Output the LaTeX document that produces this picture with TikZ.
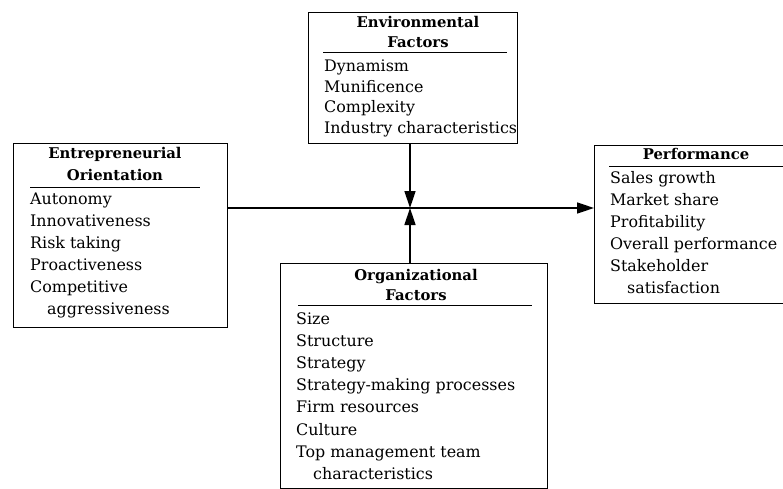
\documentclass[tikz,border=0pt]{standalone}
\usepackage{fontspec}
\setmainfont{DejaVu Serif}
\usetikzlibrary{arrows.meta}

\tikzset{
  box/.style={draw, line width=1pt, anchor=north west, inner sep=0pt},
  item/.style={anchor=base west, inner sep=0pt, font=\fontsize{15.9}{22}\selectfont},
  head/.style={anchor=base, inner sep=0pt, font=\bfseries\fontsize{14.8}{21}\selectfont},
  link/.style={line width=1.5pt, -{Triangle[length=17pt,width=11pt]}},
}

\begin{document}
\begin{tikzpicture}[x=1pt,y=-1pt]
\useasboundingbox (0,0) rectangle (783,489);

% boxes
\node[box, minimum width=214pt, minimum height=184pt] (eo) at (13,143) {};
\node[box, minimum width=209pt, minimum height=131pt] (env) at (308,12) {};
\node[box, minimum width=267pt, minimum height=225pt] (org) at (280,263) {};
\node[box, minimum width=205pt, minimum height=158pt] (perf) at (594,145) {};

% headings with their rules
\node[head] (eo-h1) at (115,159) {Entrepreneurial};
\node[head] (eo-h2) at (115,180) {Orientation};
\draw (30,187) -- (200,187);
\node[head] (env-h1) at (418,28) {Environmental};
\node[head] (env-h2) at (418,48) {Factors};
\draw (323,52) -- (507,52);
\node[head] (org-h1) at (416,280) {Organizational};
\node[head] (org-h2) at (416,300) {Factors};
\draw (298,305) -- (532,305);
\node[head] (perf-h1) at (696,160) {Performance};
\draw (609,166) -- (783,166);

% lists
\foreach \txt [count=\i from 0] in {Autonomy, Innovativeness, Risk taking,
    Proactiveness, Competitive, {\hspace*{17pt}aggressiveness}}
  \node[item] (eo-\i) at (30,204+22*\i) {\txt};
\foreach \txt [count=\i from 0] in {Dynamism, Munificence, Complexity,
    Industry characteristics}
  \node[item] (env-\i) at (324,72+20.5*\i) {\txt};
\foreach \txt [count=\i from 0] in {Size, Structure, Strategy,
    Strategy-making processes, Firm resources, Culture,
    Top management team, {\hspace*{17pt}characteristics}}
  \node[item] (org-\i) at (296,324+22.2*\i) {\txt};
\foreach \txt [count=\i from 0] in {Sales growth, Market share, Profitability,
    Overall performance, Stakeholder, {\hspace*{17pt}satisfaction}}
  \node[item] (perf-\i) at (610,183+22*\i) {\txt};

% arrows
\coordinate (mid) at (410,208);
\draw[link] (eo.east |- mid) -- (perf.west |- mid);
\draw[link] (env.south -| mid) -- (mid);
\draw[link] (org.north -| mid) -- (mid);
\end{tikzpicture}
\end{document}
